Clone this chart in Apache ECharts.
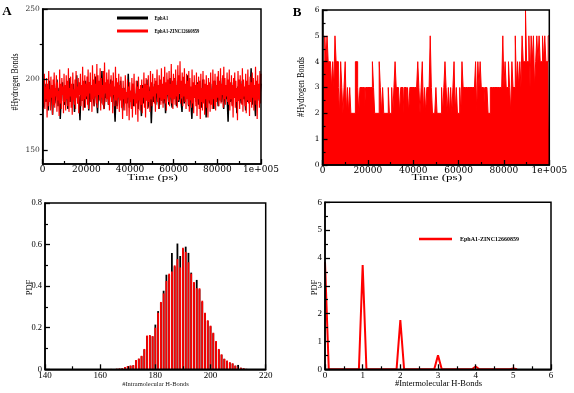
<!DOCTYPE html>
<html>
<head>
<meta charset="utf-8">
<script src="https://cdn.jsdelivr.net/npm/echarts@6/dist/echarts.min.js"></script>
<style>
html,body{margin:0;padding:0;background:#fff;}
#c{width:574px;height:393px;}
</style>
</head>
<body>
<div id="c"></div>
<script>
// ---------- Panel A: #Hydrogen Bonds vs time (ps) ----------
var hbA_EphA1 = [
188,180,197,184,193,178,199,186,191,175,196,183,189,200,181,194,172,190,198,185,
182,195,187,179,201,184,192,186,197,177,190,203,183,188,171,196,185,193,180,199,
186,191,178,198,184,194,188,181,202,187,176,195,190,183,206,185,179,192,187,197,
182,189,200,184,193,186,170,196,181,190,188,199,185,178,194,187,191,183,204,180,
192,186,197,181,189,184,199,179,193,188,174,196,183,191,185,200,180,188,195,169,
190,184,197,182,193,187,179,199,185,191,183,196,176,189,194,182,201,186,180,192,
188,195,181,199,184,190,186,177,197,183,192,188,203,181,194,185,172,196,187,191,
184,198,182,193,187,180,200,185,191,173,195,188,183,197,186,190,179,199,184,192,
181,196,188,184,201,179,193,186,190,170,197,184,189,182,198,187,192,176,195,185,
189,183,199,186,192,178,196,184,190,188,208,182,194,186,174,198,185,191,188,197
];
var hbA_Complex = [
176,199,183,204,179,195,186,201,173,197,181,206,184,193,178,202,187,196,175,200,
182,205,180,194,188,203,177,198,185,192,174,207,183,197,179,201,189,195,176,204,
184,196,178,203,186,199,181,208,177,194,188,202,180,197,175,205,185,193,182,200,
179,206,187,195,183,201,176,198,189,204,181,196,185,209,178,199,186,203,180,197,
188,202,182,207,179,198,190,205,184,196,177,210,186,200,181,204,188,197,183,211,
180,203,189,199,185,208,178,201,187,196,182,206,179,212,190,198,184,205,186,200,
182,207,178,197,188,203,184,199,176,205,189,195,181,209,185,201,179,198,187,204,
177,196,185,202,180,194,172,199,186,193,178,203,183,191,174,200,187,195,171,198,
184,192,179,201,173,197,186,204,181,190,175,199,183,195,170,202,185,193,178,196,
182,200,176,194,187,205,180,197,173,201,185,196,179,203,184,192,177,206,186,198,
181,204,188,195,183,201,177,199,190,207,184,196,179,203,187,200,182,208,185,197,
180,202,186,209,183,198,178,205,189,200,184,206,181,197,187,211,183,199,179,204,
186,201,182,207,188,196,180,210,185,203,190,213,183,199,187,205,181,202,188,208,
184,197,179,204,186,199,182,206,177,201,185,195,180,207,183,198,176,203,187,196,
181,205,174,197,186,202,179,199,172,204,184,194,178,206,183,200,175,197,186,203,
180,196,173,201,185,198,177,205,182,193,179,207,186,199,181,204,178,196,184,202,
187,206,181,199,185,208,183,197,189,203,180,209,186,201,182,196,188,205,184,200,
182,207,178,198,186,203,181,196,173,201,187,205,180,199,184,194,171,206,185,200,
179,203,186,197,182,208,177,200,188,195,181,204,176,199,185,207,183,196,174,202,
184,198,180,205,187,201,178,196,185,209,182,199,172,203,186,197,180,206,183,204
];
var timeMaxPs = 100000;

// ---------- Panel B: intermolecular H-bonds vs time (sampled every 500 ps) ----------
var hbB_stepPs = 500;
var hbB = [
4,4,5,4,5,4,4,4,3,4, 3,5,4,4,3,2,4,3,2,3,
4,2,3,2,3,2,2,2,2,4, 4,3,2,3,3,3,3,2,3,3,
3,3,3,3,4,3,2,2,2,2, 4,3,2,3,2,2,2,2,3,2,
2,3,2,3,4,3,3,3,2,3, 3,2,3,3,2,3,2,3,3,3,
3,3,3,3,4,3,2,3,4,2, 3,2,3,3,3,5,3,2,2,2,
3,2,2,2,2,3,2,3,4,3, 2,3,2,3,2,3,4,2,3,2,
2,3,2,4,3,3,3,3,3,3, 3,3,3,3,3,4,2,4,3,4,
3,3,2,3,3,3,2,2,3,3, 3,3,3,3,3,3,3,3,3,5,
3,4,3,3,4,3,2,4,3,3, 5,3,4,3,4,3,5,4,4,6,
4,4,5,3,5,4,5,3,4,5, 4,5,4,4,5,4,5,4,4,5
];

// ---------- Panel C: PDF of intramolecular H-bonds ----------
var binsC = [164,165,166,167,168,169,170,171,172,173,174,175,176,177,178,179,180,181,182,183,184,185,186,187,188,189,190,191,192,193,194,195,196,197,198,199,200,201,202,203,204,205,206,207,208,209,210,211,212,213];
var pdfC_EphA1 = [0.001,0.002,0.002,0.003,0.004,0.010,0.015,0.017,0.019,0.043,0.050,0.063,0.095,0.160,0.162,0.158,0.215,0.280,0.322,0.378,0.455,0.455,0.560,0.495,0.605,0.545,0.580,0.590,0.560,0.465,0.415,0.430,0.385,0.325,0.270,0.233,0.207,0.173,0.133,0.095,0.070,0.050,0.040,0.032,0.027,0.017,0.021,0.007,0.004,0.002];
var pdfC_Complex = [0.002,0.002,0.003,0.004,0.005,0.011,0.016,0.018,0.020,0.045,0.052,0.065,0.098,0.163,0.165,0.160,0.200,0.272,0.324,0.365,0.425,0.460,0.470,0.500,0.530,0.490,0.585,0.565,0.515,0.460,0.420,0.390,0.390,0.330,0.272,0.236,0.210,0.176,0.136,0.098,0.072,0.051,0.042,0.034,0.029,0.018,0.012,0.008,0.005,0.002];

// ---------- Panel D: PDF of intermolecular H-bonds ----------
var xD = [0,0.1,0.9,1,1.1,1.9,2,2.1,2.9,3,3.1,3.9,4,4.1,4.9,5,5.1];
var pdfD = [3.85,0,0,3.75,0,0,1.77,0,0,0.5,0,0,0.1,0,0,0.03,0];

var seriesNames = ['EphA1','EphA1-ZINC12660859'];

// ---------- build ----------
var SERIF = '"Liberation Serif","Times New Roman",serif';
var WIDE = '"DejaVu Serif",serif';
var RED = '#ff0000';

function pairsEven(vals, maxX){
  var n = vals.length, out = [];
  for (var i=0;i<n;i++) out.push([i*maxX/(n-1), vals[i]]);
  return out;
}
var dataB = hbB.map(function(v,i){return [i*hbB_stepPs, v];});
dataB.push([timeMaxPs, hbB[hbB.length-1]]);
var dataCblack = binsC.map(function(b,i){return [b, pdfC_EphA1[i]];});
var dataCred = binsC.map(function(b,i){return [b, pdfC_Complex[i]];});
var dataD = xD.map(function(x,i){return [x, pdfD[i]];});

function timeFmt(v){ return v === 100000 ? '1e+005' : String(v); }

var frame = {show:true, borderColor:'#000', borderWidth:1.5, backgroundColor:'transparent', z:10, outerBoundsMode:'none', containLabel:false};
function ax(grid, min, max, interval, family, fs, fmt, margin, color){
  return {type:'value', gridIndex:grid, min:min, max:max, interval:interval, z:10,
    axisLine:{show:true, onZero:false, lineStyle:{color:'#000', width:1.5}},
    axisTick:{show:true, inside:true, length:5, lineStyle:{color:'#000', width:1.3}},
    minorTick:{show:true, splitNumber:2, length:3, lineStyle:{color:'#000', width:1.2}},
    splitLine:{show:false}, minorSplitLine:{show:false},
    axisLabel:{fontFamily:family, fontSize:fs, color:color||'#000', margin:margin, formatter:fmt, showMinLabel:true, showMaxLabel:true, hideOverlap:false}
  };
}

var yA = {type:'value', gridIndex:0, min:140, max:250, z:10,
  axisLine:{show:true, onZero:false, lineStyle:{color:'#000', width:1.5}},
  axisTick:{show:true, inside:true, length:5, customValues:[150,200,250], lineStyle:{color:'#000', width:1.3}},
  splitLine:{show:false},
  axisLabel:{fontFamily:WIDE, fontSize:7.5, color:'#333', margin:3, customValues:[150,200,250]}
};
var yAminor = {type:'value', gridIndex:0, min:140, max:250, z:10,
  axisLine:{show:false}, splitLine:{show:false},
  axisTick:{show:true, inside:true, length:3, customValues:[175,225], lineStyle:{color:'#000', width:1.2}},
  axisLabel:{show:false, customValues:[175,225]}
};

function txt(t, x, y, fs, opts){
  opts = opts || {};
  return {type:'text', x:x, y:y, z:100, rotation:opts.rot||0, scaleX:opts.sx||1, scaleY:1,
    style:{text:t, font:(opts.bold?'bold ':'') + fs + 'px ' + SERIF, fill:opts.fill||'#000',
      align:opts.align||'center', verticalAlign:'middle'}};
}
function seg(x1,x2,y,color,w){
  return {type:'line', z:100, shape:{x1:x1,y1:y,x2:x2,y2:y}, style:{stroke:color, lineWidth:w}};
}

var option = {
  animation:false,
  backgroundColor:'#fff',
  grid:[
    Object.assign({left:42.7, top:9, width:218.3, height:155}, frame),
    Object.assign({left:322.5, top:10, width:226.8, height:155}, frame),
    Object.assign({left:45, top:203, width:220.7, height:166.3}, frame),
    Object.assign({left:325, top:202.3, width:226, height:167}, frame)
  ],
  xAxis:[
    ax(0, 0, timeMaxPs, 20000, WIDE, 9, timeFmt, 1.5),
    ax(1, 0, timeMaxPs, 20000, WIDE, 9, timeFmt, 1.5),
    ax(2, 140, 220, 20, SERIF, 9, null, 2),
    ax(3, 0, 6, 1, SERIF, 9, null, 2)
  ],
  yAxis:[
    yA, yAminor,
    ax(1, 0, 6, 1, WIDE, 7.5, null, 3),
    ax(2, 0, 0.8, 0.2, SERIF, 8.5, function(v){return v===0?'0':v.toFixed(1);}, 3),
    ax(3, 0, 6, 1, SERIF, 9, null, 3)
  ],
  series:[
    {type:'line', name:seriesNames[0], xAxisIndex:0, yAxisIndex:0, data:pairsEven(hbA_EphA1, timeMaxPs), symbol:'none',
      lineStyle:{color:'#000', width:1.5}, itemStyle:{color:'#000'}, z:2},
    {type:'line', name:seriesNames[1], xAxisIndex:0, yAxisIndex:0, data:pairsEven(hbA_Complex, timeMaxPs), symbol:'none',
      lineStyle:{color:RED, width:1.2}, itemStyle:{color:RED}, z:3},
    {type:'line', name:seriesNames[1], xAxisIndex:1, yAxisIndex:2, data:dataB, symbol:'none', step:'end',
      lineStyle:{color:RED, width:1}, itemStyle:{color:RED}, areaStyle:{color:RED, opacity:1}, z:2},
    {type:'bar', name:seriesNames[0], xAxisIndex:2, yAxisIndex:3, data:dataCblack, barWidth:1.8, barGap:'-100%',
      itemStyle:{color:'#000'}, z:2},
    {type:'bar', name:seriesNames[1], xAxisIndex:2, yAxisIndex:3, data:dataCred, barWidth:1.8, barGap:'-100%',
      itemStyle:{color:RED}, z:3},
    {type:'line', name:seriesNames[1], xAxisIndex:3, yAxisIndex:4, data:dataD, symbol:'none',
      lineStyle:{color:RED, width:2}, itemStyle:{color:RED}, z:2}
  ],
  graphic:[
    txt('A', 7, 12, 13, {bold:true}),
    txt('B', 297, 13, 13, {bold:true}),
    txt('#Hydrogen Bonds', 15, 82, 10, {rot:Math.PI/2, sx:0.78}),
    txt('#Hydrogen Bonds', 301, 87, 10, {rot:Math.PI/2, sx:0.82}),
    txt('Time (ps)', 152.5, 178, 9, {sx:1.45}),
    txt('Time (ps)', 436.7, 178, 9, {sx:1.45}),
    txt('PDF', 29.5, 287.5, 8.5, {rot:Math.PI/2}),
    txt('PDF', 314.5, 287.5, 8.5, {rot:Math.PI/2}),
    txt('#Intramolecular H-Bonds', 155.5, 384, 6.5, {fill:'#222'}),
    txt('#Intermolecular H-Bonds', 438.5, 384, 8.5),
    seg(117, 148, 18, '#000', 3),
    seg(117, 148, 31, RED, 3),
    txt(seriesNames[0], 154.5, 18, 6.5, {bold:true, align:'left', sx:0.7}),
    txt(seriesNames[1], 154.5, 31, 6.5, {bold:true, align:'left', sx:0.7}),
    seg(419, 452, 239, RED, 2.5),
    txt(seriesNames[1], 460, 239, 6, {bold:true, align:'left'})
  ]
};

var chart = echarts.init(document.getElementById('c'), null, {renderer:'canvas'});
chart.setOption(option);
</script>
</body>
</html>
